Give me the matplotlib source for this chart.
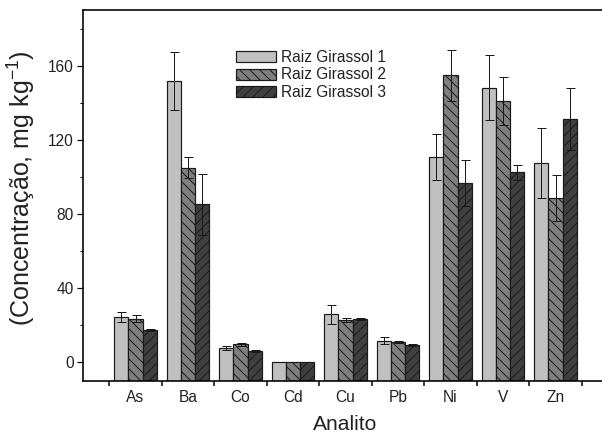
import numpy as np
import matplotlib
matplotlib.use("Agg")
import matplotlib.pyplot as plt

# ---- data ----
analitos = ["As", "Ba", "Co", "Cd", "Cu", "Pb", "Ni", "V", "Zn"]
series_names = ["Raiz Girassol 1", "Raiz Girassol 2", "Raiz Girassol 3"]

girassol1 = [24.6, 151.9, 7.9, 0.0, 25.9, 11.7, 110.8, 148.1, 107.4]
girassol2 = [23.6, 104.9, 9.7, 0.0, 22.9, 11.1, 154.8, 140.9, 88.6]
girassol3 = [17.6, 85.2, 6.1, 0.0, 23.4, 9.4, 96.8, 102.5, 131.0]

erro1 = [2.8, 15.7, 1.0, 0.0, 5.0, 2.0, 12.3, 17.5, 18.9]
erro2 = [2.0, 5.7, 1.0, 0.0, 1.0, 0.5, 13.7, 12.9, 12.3]
erro3 = [0.7, 16.6, 0.5, 0.0, 0.4, 0.3, 12.6, 4.1, 16.7]

y_ticks = [0, 40, 80, 120, 160]

# ---- styling ----
DPI = 120
W_PX, H_PX = 602, 433


def pt(px):
    """Convert a size in output pixels to points at the figure dpi."""
    return px * 72.0 / DPI


plt.rcParams["font.family"] = ["Liberation Sans", "DejaVu Sans"]
plt.rcParams["hatch.linewidth"] = pt(1.0)
plt.rcParams["mathtext.fontset"] = "custom"
plt.rcParams["mathtext.rm"] = "Liberation Sans"
plt.rcParams["mathtext.it"] = "Liberation Sans"

fig = plt.figure(figsize=(W_PX / DPI, H_PX / DPI), dpi=DPI)
ax = fig.add_axes([83 / W_PX, 52 / H_PX, 525 / W_PX, 371 / H_PX])

ymin, ymax = -10, 190
x = np.arange(len(analitos))
width = 0.27

series = [girassol1, girassol2, girassol3]
errors = [erro1, erro2, erro3]
faces = ["#c0c0c0", "#7f7f7f", "#3f3f3f"]
hatches = ["", "\\\\\\\\", "////"]

for i, (vals, errs) in enumerate(zip(series, errors)):
    vals = np.asarray(vals)
    pos = x + (i - 1) * width
    ax.bar(pos, vals - ymin, bottom=ymin, width=width, color=faces[i],
           edgecolor="#1a1a1a", linewidth=pt(1.2), hatch=hatches[i],
           label=series_names[i], zorder=2)
    mask = np.asarray(errs) > 0
    ax.errorbar(pos[mask], vals[mask], yerr=np.asarray(errs)[mask], fmt="none",
                ecolor="#1a1a1a", elinewidth=pt(1.0), capsize=pt(4.5),
                capthick=pt(1.0), zorder=3)

ax.set_xlim(-1, 9)
ax.set_ylim(ymin, ymax)

# category boundaries carry the ticks, centres carry the labels
ax.set_xticks(np.arange(-0.5, len(analitos), 1.0))
ax.set_xticklabels([])
ax.set_xticks(x, minor=True)
ax.set_xticklabels(analitos, minor=True)
ax.tick_params(axis="x", which="major", direction="out", length=pt(5),
               width=pt(1.5))
ax.tick_params(axis="x", which="minor", length=0, pad=pt(9),
               labelsize=pt(15.5), labelcolor="#222222")

ax.set_yticks(y_ticks)
ax.set_yticks(np.arange(20, 181, 40), minor=True)
ax.tick_params(axis="y", which="major", direction="out", length=pt(6),
               width=pt(1.2), labelsize=pt(15.5), labelcolor="#222222",
               pad=pt(3))
ax.tick_params(axis="y", which="minor", direction="out", length=pt(3),
               width=pt(1.0))

for side in ["left", "bottom", "top"]:
    ax.spines[side].set_linewidth(pt(1.6))
ax.spines["right"].set_visible(False)

ax.set_xlabel("Analito", fontsize=pt(21), color="#222222")
ax.xaxis.set_label_coords(0.5, -(424 - 381) / 371)
ax.xaxis.label.set_verticalalignment("center")
ax.set_ylabel(r"(Concentração, mg kg$^{-1}$)", fontsize=pt(25),
              color="#222222")
ax.yaxis.set_label_coords(-(83 - 22) / 525, (381 - 188) / 371)
ax.yaxis.label.set_verticalalignment("center")

leg = ax.legend(loc="upper left",
                bbox_to_anchor=(236 / W_PX, 1 - 50 / H_PX),
                bbox_transform=fig.transFigure,
                frameon=False, fontsize=pt(15.5), borderpad=0,
                borderaxespad=0, handlelength=2.6, handleheight=0.72,
                handletextpad=0.3, labelspacing=0.16)
for t in leg.get_texts():
    t.set_color("#222222")

fig.savefig("out.png", dpi=DPI)
